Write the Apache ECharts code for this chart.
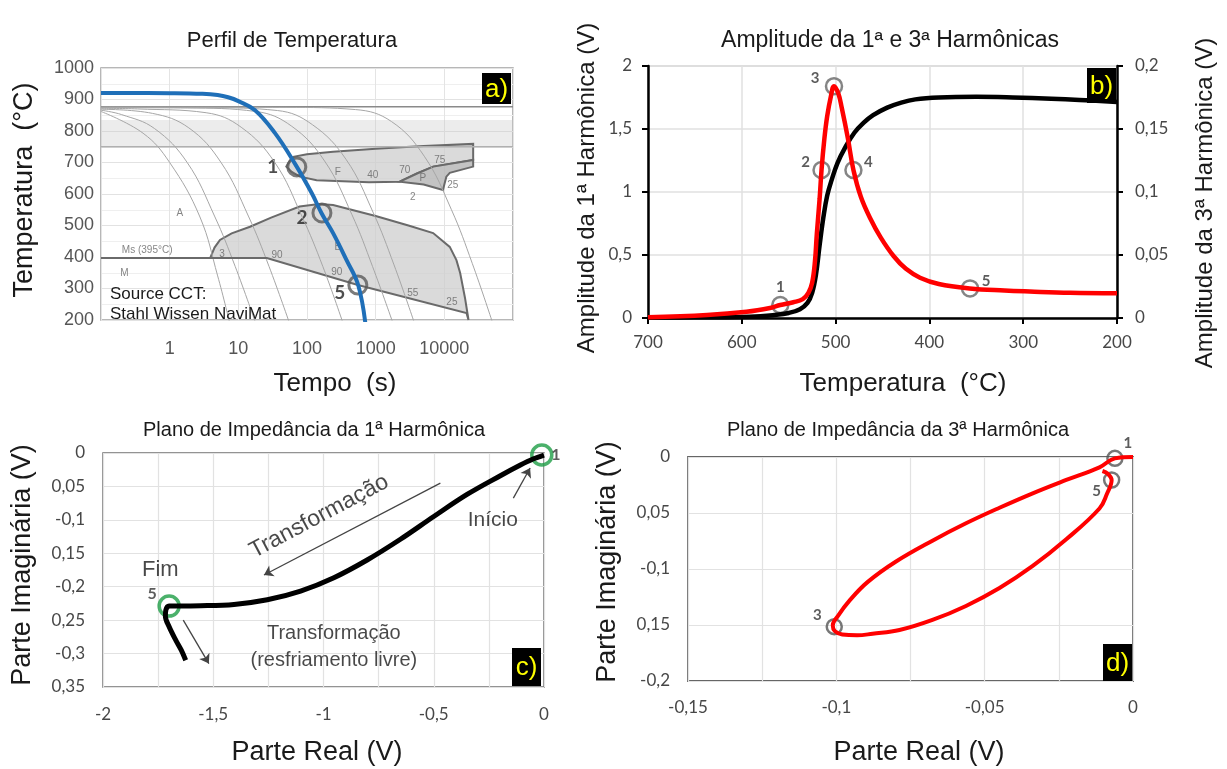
<!DOCTYPE html>
<html>
<head>
<meta charset="utf-8">
<script src="https://cdn.jsdelivr.net/npm/echarts@6/dist/echarts.min.js"></script>
<style>
html, body { margin: 0; padding: 0; background: #fff; }
#main { width: 1227px; height: 769px; }
</style>
</head>
<body>
<div id="main"></div>
<script>
// ---- a) Perfil de Temperatura (CCT, tempo em escala log) ----
var aXTickLabels = [1, 10, 100, 1000, 10000];
var aBlueCurve = [[0.1, 921], [1, 920], [3, 918], [5, 914], [7.1, 907], [10, 895], [17.5, 866], [34, 794], [66, 698],
  [117, 603], [163, 539], [241, 475], [377, 390], [556, 311], [713, 184]];
var aCool1 = [[0.1, 862], [0.41, 793], [1, 700], [2.76, 527], [5, 340], [7.6, 185]];
var aCool2 = [[0.1, 866], [0.2, 852], [0.6, 808], [1.8, 700], [4.5, 530], [9, 370], [18, 188]];
var aCool3 = [[0.1, 869], [0.56, 856], [1.9, 810], [5.6, 700], [14, 530], [28, 370], [56, 188]];
var aCool4 = [[0.1, 872], [0.34, 870], [3.4, 858], [11, 812], [34, 700], [84, 530], [170, 370], [337, 188]];
var aCool5 = [[0.1, 874], [1.8, 873], [18, 862], [60, 815], [180, 705], [450, 535], [900, 370], [1800, 188]];
var aCool6 = [[0.1, 875], [3.7, 874], [37, 865], [120, 820], [370, 710], [925, 540], [1850, 375], [3700, 188]];
var aCool7 = [[0.1, 876], [51, 875], [510, 868], [1700, 830], [5100, 720], [12700, 550], [25500, 380], [51000, 188]];
var aCoolingCurves = [aCool1, aCool2, aCool3, aCool4, aCool5, aCool6, aCool7];
var aFerrite = [[50, 687], [56, 705], [63, 718], [100, 726], [240, 734], [1000, 744], [5000, 752], [26300, 759],
  [26300, 708], [6870, 687], [4000, 665], [2240, 639], [800, 637], [138, 644], [79, 655], [60, 670], [50, 687]];
var aPearlite = [[2240, 639], [4000, 665], [6870, 687], [26300, 708], [26300, 687], [12000, 667], [10700, 655],
  [10000, 630], [9550, 613], [5000, 630], [2240, 639]];
var aBainite = [[3.9, 397], [4.5, 430], [5.4, 454], [8, 475], [14.8, 496], [30, 525], [78, 560], [150, 568], [240, 565],
  [1000, 530], [3000, 500], [6870, 476], [12000, 432], [15000, 390], [17000, 349], [20000, 270], [22500, 200],
  [21000, 222], [550, 311], [26, 397], [3.9, 397]];
var aMsLine = [[0.1, 397], [26, 397]];
var aAc3 = [[0.1, 877], [100000, 877]];
var aAc1 = [[0.1, 750], [100000, 750]];
var aPoints = [[71, 686], [165, 540], [550, 311]];
var aPointLabels = ['1', '2', '5'];
var aNotes = [[282, 670, 'F'], [910, 660, '40'], [2660, 676, '70'], [8600, 708, '75'], [4860, 651, 'P'],
  [13300, 629, '25'], [3470, 590, '2'], [1.41, 540, 'A'], [282, 432, 'B'], [36.5, 406, '90'], [272, 352, '90'],
  [5.8, 409, '3'], [3470, 286, '55'], [12900, 257, '25'], [0.47, 422, 'Ms (395°C)'], [0.22, 349, 'M']];

// ---- b) Amplitude da 1a e 3a harmonicas ----
var bXTickLabels = ['200', '300', '400', '500', '600', '700'];
var bLeftTickLabels = ['0', '0,5', '1', '1,5', '2'];
var bRightTickLabels = ['0', '0,05', '0,1', '0,15', '0,2'];
var bFirstHarm = [[700, 0.003], [650, 0.005], [602, 0.008], [580, 0.014], [567, 0.022], [550, 0.04], [538, 0.07],
  [530, 0.12], [525, 0.2], [521, 0.34], [517, 0.58], [513, 0.8], [509, 0.97], [504, 1.1], [498, 1.23], [490, 1.35],
  [480, 1.47], [470, 1.55], [460, 1.61], [445, 1.67], [430, 1.71], [415, 1.735], [390, 1.75], [350, 1.755],
  [311, 1.75], [270, 1.74], [240, 1.73], [200, 1.715]];
var bThirdHarm = [[700, 0.0005], [637, 0.0024], [595, 0.005], [570, 0.008], [559, 0.0103], [545, 0.0125], [535, 0.015],
  [529, 0.02], [525, 0.028], [522, 0.045], [520, 0.067], [517, 0.095], [515, 0.1175], [512, 0.142], [509, 0.16],
  [505, 0.176], [501.7, 0.184], [497, 0.178], [493.5, 0.167], [487, 0.143], [481, 0.1175], [473, 0.096], [463, 0.079],
  [452, 0.064], [438, 0.049], [425, 0.039], [410, 0.032], [390, 0.027], [357, 0.0235], [320, 0.0218], [293, 0.021],
  [250, 0.02], [200, 0.0196]];
var bPoints = [[559, 0.103], [515, 1.175], [501.7, 1.84], [481, 1.175], [356.7, 0.235]];
var bPointLabels = ['1', '2', '3', '4', '5'];

// ---- c) Plano de impedancia da 1a harmonica ----
var cXTickLabels = ['-2', '-1,5', '-1', '-0,5', '0'];
var cYTickLabels = ['0', '0,05', '-0,1', '0,15', '-0,2', '0,25', '-0,3', '0,35'];
var cCurve = [[0, -0.003], [-0.05, -0.009], [-0.107, -0.018], [-0.198, -0.034], [-0.349, -0.062], [-0.5, -0.095],
  [-0.651, -0.129], [-0.802, -0.16], [-0.953, -0.1865], [-1.104, -0.2065], [-1.255, -0.2195], [-1.406, -0.2265],
  [-1.557, -0.2285], [-1.663, -0.2288], [-1.7, -0.229], [-1.715, -0.235], [-1.717, -0.244], [-1.7, -0.26],
  [-1.67, -0.28], [-1.645, -0.295], [-1.625, -0.31]];
var cPoints = [[-0.01, -0.003], [-1.7, -0.229]];
var cPointLabels = ['1', '5'];
var cArrows = [[[-0.47, -0.045], [-1.27, -0.1825]], [[-0.139, -0.0675], [-0.063, -0.0225]], [[-1.636, -0.25], [-1.52, -0.315]]];

// ---- d) Plano de impedancia da 3a harmonica ----
var dXTickLabels = ['-0,15', '-0,1', '-0,05', '0'];
var dYTickLabels = ['0', '0,05', '-0,1', '0,15', '-0,2'];
var dCurve = [[0, 0], [-0.0061, -0.0012], [-0.0113, -0.0092], [-0.0225, -0.0205], [-0.0338, -0.0324], [-0.045, -0.0453],
  [-0.0563, -0.0592], [-0.0676, -0.0747], [-0.080, -0.0935], [-0.0894, -0.1115], [-0.0955, -0.128], [-0.0995, -0.142],
  [-0.1012, -0.1505], [-0.1005, -0.1555], [-0.098, -0.1585], [-0.093, -0.1592], [-0.0878, -0.1578], [-0.0787, -0.1545],
  [-0.0676, -0.1455], [-0.0563, -0.133], [-0.045, -0.117], [-0.0338, -0.0973], [-0.0225, -0.0735], [-0.0113, -0.046],
  [-0.0088, -0.033], [-0.0072, -0.0205], [-0.0085, -0.015], [-0.0103, -0.0125]];
var dPoints = [[-0.0061, -0.0012], [-0.0072, -0.0205], [-0.1007, -0.1515]];
var dPointLabels = ['1', '5', '3'];

var SANS = '"Liberation Sans", Arial, sans-serif';
var TICK = 'Lato, "Liberation Sans", sans-serif';

var chart = echarts.init(document.getElementById('main'));

function idx(step, base) {
  return function (v) { return Math.round((v - base) / step); };
}

function polygon(points, fill) {
  return function (params, api) {
    return {
      type: 'polygon',
      shape: { points: points.map(function (p) { return api.coord(p); }) },
      style: { fill: fill, stroke: '#6a6a6a', lineWidth: 2 }
    };
  };
}

function text(x, y, str, size, extra) {
  var el = {
    type: 'text', x: x, y: y, z: 100,
    style: {
      text: str, fontSize: size, fontFamily: SANS, fill: '#1a1a1a',
      align: 'center', verticalAlign: 'middle', textAlign: 'center', textVerticalAlign: 'middle'
    }
  };
  if (extra) {
    for (var k in extra) el[k] = extra[k];
  }
  return el;
}

function tagBox(x, y, w, h, str) {
  return [
    { type: 'rect', z: 100, shape: { x: x, y: y, width: w, height: h }, style: { fill: '#000' } },
    text(x + w / 2, y + h / 2 + 1, str, 26, null)
  ];
}

var tags = [].concat(tagBox(482, 73, 29, 31, 'a)'), tagBox(1087, 68, 29, 35, 'b)'),
  tagBox(512, 648, 29, 38, 'c)'), tagBox(1103, 644, 29, 37, 'd)'));
tags.forEach(function (el) { if (el.type === 'text') el.style.fill = '#ffff00'; });

var ticksStyle = { color: '#474747', fontFamily: TICK, fontSize: 17 };

var series = [];

// panel a
series.push({
  type: 'line', xAxisIndex: 0, yAxisIndex: 0, data: aAc3, symbol: 'none',
  lineStyle: { color: '#8a8a8a', width: 1.5 },
  markArea: { silent: true, itemStyle: { color: 'rgba(200,200,200,0.35)' }, data: [[{ yAxis: 750 }, { yAxis: 835 }]] }
});
series.push({ type: 'line', xAxisIndex: 0, yAxisIndex: 0, data: aAc1, symbol: 'none', lineStyle: { color: '#b0b0b0', width: 1.5 } });
aCoolingCurves.forEach(function (c) {
  series.push({
    type: 'line', xAxisIndex: 0, yAxisIndex: 0, data: c, symbol: 'none', smooth: 0.4,
    lineStyle: { color: '#a6a6a6', width: 1 }
  });
});
series.push({ type: 'custom', xAxisIndex: 0, yAxisIndex: 0, data: [[1, 500]], renderItem: polygon(aFerrite, 'rgba(205,205,205,0.75)') });
series.push({ type: 'custom', xAxisIndex: 0, yAxisIndex: 0, data: [[1, 500]], renderItem: polygon(aPearlite, 'rgba(185,185,185,0.85)') });
series.push({ type: 'custom', xAxisIndex: 0, yAxisIndex: 0, data: [[1, 500]], renderItem: polygon(aBainite, 'rgba(205,205,205,0.75)') });
series.push({ type: 'line', xAxisIndex: 0, yAxisIndex: 0, data: aMsLine, symbol: 'none', lineStyle: { color: '#6a6a6a', width: 2 } });
series.push({
  type: 'scatter', xAxisIndex: 0, yAxisIndex: 0, symbolSize: 1, itemStyle: { color: 'transparent' },
  data: aNotes.map(function (n) { return { value: [n[0], n[1]], name: n[2] }; }),
  label: { show: true, position: 'inside', formatter: '{b}', color: '#666', fontSize: 10, fontFamily: SANS }
});
series.push({
  type: 'line', xAxisIndex: 0, yAxisIndex: 0, data: aBlueCurve, symbol: 'none', smooth: 0.4,
  lineStyle: { color: '#1f6fb8', width: 4 }
});
var aOffsets = [[-24, 0], [-20, 5], [-18, 8]];
series.push({
  type: 'scatter', xAxisIndex: 0, yAxisIndex: 0, symbol: 'circle', symbolSize: 18,
  itemStyle: { color: 'transparent', borderColor: '#5a5a5a', borderWidth: 3 },
  data: aPoints.map(function (p, i) {
    return { value: p, name: aPointLabels[i], label: { offset: aOffsets[i] } };
  }),
  label: { show: true, position: 'inside', formatter: '{b}', color: '#222', fontSize: 19, fontWeight: 'bold', fontFamily: TICK }
});

// panel b
series.push({
  type: 'line', xAxisIndex: 1, yAxisIndex: 1, data: bFirstHarm, symbol: 'none', smooth: 0.4,
  lineStyle: { color: '#000', width: 4.5 }
});
series.push({
  type: 'line', xAxisIndex: 1, yAxisIndex: 2, data: bThirdHarm, symbol: 'none', smooth: 0.4,
  lineStyle: { color: '#ff0000', width: 4.5 }
});
var bOffsets = [[0, -18], [-16, -8], [-19, -8], [15, -8], [16, -7]];
series.push({
  type: 'scatter', xAxisIndex: 1, yAxisIndex: 1, symbol: 'circle', symbolSize: 16,
  itemStyle: { color: 'transparent', borderColor: '#666', borderWidth: 2.5 },
  data: bPoints.map(function (p, i) {
    return { value: p, name: bPointLabels[i], label: { offset: bOffsets[i] } };
  }),
  label: { show: true, position: 'inside', formatter: '{b}', color: '#333', fontSize: 15, fontWeight: 'bold', fontFamily: TICK }
});

// panel c
series.push({
  type: 'line', xAxisIndex: 2, yAxisIndex: 3, data: cCurve, symbol: 'none', smooth: 0.35,
  lineStyle: { color: '#000', width: 5 },
  markLine: {
    silent: true, symbol: ['none', 'arrow'], symbolSize: 9, label: { show: false },
    lineStyle: { color: '#444', width: 1.3, type: 'solid' },
    data: cArrows.map(function (a) { return [{ coord: a[0] }, { coord: a[1] }]; })
  }
});
var cOffsets = [[14, 0], [-17, -12]];
series.push({
  type: 'scatter', xAxisIndex: 2, yAxisIndex: 3, symbol: 'circle', symbolSize: 20,
  itemStyle: { color: 'transparent', borderColor: '#1e9e46', borderWidth: 3.5 },
  data: cPoints.map(function (p, i) {
    return { value: p, name: cPointLabels[i], label: { offset: cOffsets[i] } };
  }),
  label: { show: true, position: 'inside', formatter: '{b}', color: '#333', fontSize: 16, fontWeight: 'bold', fontFamily: TICK }
});
series.push({
  type: 'scatter', xAxisIndex: 2, yAxisIndex: 3, symbolSize: 1, itemStyle: { color: 'transparent' },
  label: { show: true, position: 'inside', formatter: '{b}', color: '#1a1a1a', fontFamily: SANS, fontSize: 21 },
  data: [
    { value: [-1.74, -0.175], name: 'Fim', label: { fontSize: 22 } },
    { value: [-0.232, -0.1], name: 'Início' },
    { value: [-1.02, -0.095], name: 'Transformação', label: { rotate: 28, fontSize: 23 } },
    { value: [-0.953, -0.29], name: 'Transformação\n(resfriamento livre)', label: { fontSize: 20, lineHeight: 27 } }
  ]
});

// panel d
series.push({
  type: 'line', xAxisIndex: 3, yAxisIndex: 4, data: dCurve, symbol: 'none', smooth: 0.4,
  lineStyle: { color: '#ff0000', width: 4 }
});
var dOffsets = [[13, -15], [-15, 11], [-17, -12]];
series.push({
  type: 'scatter', xAxisIndex: 3, yAxisIndex: 4, symbol: 'circle', symbolSize: 15,
  itemStyle: { color: 'transparent', borderColor: '#555', borderWidth: 2.5 },
  data: dPoints.map(function (p, i) {
    return { value: p, name: dPointLabels[i], label: { offset: dOffsets[i] } };
  }),
  label: { show: true, position: 'inside', formatter: '{b}', color: '#333', fontSize: 15, fontWeight: 'bold', fontFamily: TICK }
});

var option = {
  animation: false,
  backgroundColor: '#fff',
  grid: [
    { left: 101, top: 68, width: 412, height: 252, show: true, borderColor: '#a0a0a0', borderWidth: 1.5, outerBoundsMode: 'none' },
    { left: 648, top: 66, width: 469, height: 252, show: true, borderColor: '#c8c8c8', borderWidth: 1.5, outerBoundsMode: 'none' },
    { left: 103, top: 453, width: 441, height: 234, show: true, borderColor: '#707070', borderWidth: 1.5, outerBoundsMode: 'none' },
    { left: 688, top: 457, width: 445, height: 224, show: true, borderColor: '#666', borderWidth: 1.8, outerBoundsMode: 'none' }
  ],
  xAxis: [
    {
      gridIndex: 0, type: 'log', logBase: 10, min: 0.1, max: 100000, splitNumber: 6,
      axisLine: { show: false, onZero: false }, axisTick: { show: false },
      axisLabel: {
        margin: 20, color: '#555', fontFamily: SANS, fontSize: 18,
        formatter: function (v) {
          var hit = aXTickLabels.filter(function (t) { return Math.abs(Math.log10(v) - Math.log10(t)) < 1e-6; });
          return hit.length ? String(hit[0]) : '';
        }
      },
      splitLine: { show: true, lineStyle: { color: '#e4e4e4' } }
    },
    {
      gridIndex: 1, type: 'value', min: 200, max: 700, interval: 100, inverse: true,
      axisLine: { onZero: false, lineStyle: { color: '#000', width: 2.5 } },
      axisTick: { show: true, length: 6, lineStyle: { color: '#000', width: 2 } },
      axisLabel: Object.assign({ margin: 16, formatter: function (v) { return bXTickLabels[idx(100, 200)(v)]; } }, ticksStyle),
      splitLine: { show: true, lineStyle: { color: '#e0e0e0', width: 1.5 } }
    },
    {
      gridIndex: 2, type: 'value', min: -2, max: 0, interval: 0.5,
      axisLine: { show: false, onZero: false }, axisTick: { show: false },
      axisLabel: Object.assign({ margin: 19, formatter: function (v) { return cXTickLabels[idx(0.5, -2)(v)]; } }, ticksStyle),
      splitLine: { show: true, lineStyle: { color: '#e2e2e2', width: 1.2 } },
      minorTick: { show: false, splitNumber: 2 },
      minorSplitLine: { show: true, lineStyle: { color: '#e2e2e2', width: 1.2 } }
    },
    {
      gridIndex: 3, type: 'value', min: -0.15, max: 0, interval: 0.05,
      axisLine: { show: false, onZero: false }, axisTick: { show: false },
      axisLabel: Object.assign({ margin: 18, formatter: function (v) { return dXTickLabels[idx(0.05, -0.15)(v)]; } }, ticksStyle),
      splitLine: { show: true, lineStyle: { color: '#e2e2e2', width: 1.2 } },
      minorTick: { show: false, splitNumber: 2 },
      minorSplitLine: { show: true, lineStyle: { color: '#e2e2e2', width: 1.2 } }
    }
  ],
  yAxis: [
    {
      gridIndex: 0, type: 'value', min: 200, max: 1000, interval: 100,
      axisLine: { show: false, onZero: false }, axisTick: { show: false },
      axisLabel: { margin: 7, color: '#555', fontFamily: SANS, fontSize: 18, formatter: function (v) { return String(v); } },
      splitLine: { show: true, lineStyle: { color: '#e2e2e2' } },
      minorTick: { show: false, splitNumber: 2 },
      minorSplitLine: { show: true, lineStyle: { color: '#efefef' } }
    },
    {
      gridIndex: 1, type: 'value', min: 0, max: 2, interval: 0.5, position: 'left',
      axisLine: { show: true, onZero: false, lineStyle: { color: '#000', width: 2.5 } },
      axisTick: { show: true, length: 6, lineStyle: { color: '#000', width: 2 } },
      axisLabel: Object.assign({ margin: 16, formatter: function (v) { return bLeftTickLabels[idx(0.5, 0)(v)]; } }, ticksStyle),
      splitLine: { show: true, lineStyle: { color: '#e0e0e0', width: 1.5 } }
    },
    {
      gridIndex: 1, type: 'value', min: 0, max: 0.2, interval: 0.05, position: 'right',
      axisLine: { show: true, onZero: false, lineStyle: { color: '#000', width: 2.5 } },
      axisTick: { show: true, length: 6, lineStyle: { color: '#000', width: 2 } },
      axisLabel: Object.assign({ margin: 18, formatter: function (v) { return bRightTickLabels[idx(0.05, 0)(v)]; } }, ticksStyle),
      splitLine: { show: false }
    },
    {
      gridIndex: 2, type: 'value', min: -0.35, max: 0, interval: 0.05,
      axisLine: { show: false, onZero: false }, axisTick: { show: false },
      axisLabel: Object.assign({ margin: 18, formatter: function (v) { return cYTickLabels[idx(-0.05, 0)(v)]; } }, ticksStyle),
      splitLine: { show: true, lineStyle: { color: '#e2e2e2', width: 1.2 } }
    },
    {
      gridIndex: 3, type: 'value', min: -0.2, max: 0, interval: 0.05,
      axisLine: { show: false, onZero: false }, axisTick: { show: false },
      axisLabel: Object.assign({ margin: 18, formatter: function (v) { return dYTickLabels[idx(-0.05, 0)(v)]; } }, ticksStyle),
      splitLine: { show: true, lineStyle: { color: '#e2e2e2', width: 1.2 } }
    }
  ],
  graphic: [
    text(292, 41, 'Perfil de Temperatura', 22),
    text(25, 190, 'Temperatura  (°C)', 27, { rotation: Math.PI / 2 }),
    text(335, 384, 'Tempo  (s)', 26),
    text(110, 294, 'Source CCT:', 17, null),
    text(110, 314, 'Stahl Wissen NaviMat', 17, null),
    text(890, 41, 'Amplitude da 1ª e 3ª Harmônicas', 23),
    text(587, 188, 'Amplitude da 1ª Harmônica (V)', 24, { rotation: Math.PI / 2 }),
    text(1205, 203, 'Amplitude da 3ª Harmônica (V)', 24, { rotation: Math.PI / 2 }),
    text(903, 384, 'Temperatura  (°C)', 26),
    text(314, 430, 'Plano de Impedância da 1ª Harmônica', 20),
    text(23, 565, 'Parte Imaginária (V)', 27, { rotation: Math.PI / 2 }),
    text(317, 753, 'Parte Real (V)', 27),
    text(898, 430, 'Plano de Impedância da 3ª Harmônica', 20),
    text(608, 562, 'Parte Imaginária (V)', 27, { rotation: Math.PI / 2 }),
    text(919, 753, 'Parte Real (V)', 27)
  ].concat(tags),
  series: series
};

// left-aligned source note
option.graphic[3].style.align = 'left';
option.graphic[3].style.textAlign = 'left';
option.graphic[4].style.align = 'left';
option.graphic[4].style.textAlign = 'left';

chart.setOption(option);
</script>
</body>
</html>
